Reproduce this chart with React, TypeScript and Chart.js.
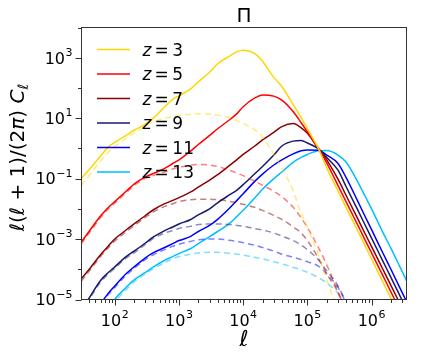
import React, { useEffect, useRef } from "react";
import { Chart, registerables } from "chart.js";

Chart.register(...registerables);

// multipole ℓ
const ELL = [30, 40, 60, 80, 100, 150, 200, 300, 400, 600, 800, 1000, 1500, 2000, 3000, 4000, 6000, 8000, 10000, 15000, 20000, 30000, 40000, 60000, 80000, 100000, 150000, 200000, 300000, 400000, 600000, 800000, 1000000, 1500000, 2000000, 3000000, 4000000];

const Z_LABELS = ["3", "5", "7", "9", "11", "13"];
const COLORS = ["#FFD700", "#FF0000", "#8B0000", "#191970", "#0000FF", "#00BFFF"];
const DASH_COLORS = ["rgba(255,215,0,0.5)", "rgba(255,0,0,0.5)", "rgba(139,0,0,0.5)", "rgba(25,25,112,0.5)", "rgba(0,0,255,0.5)", "rgba(0,191,255,0.5)"];

// log10 of ℓ(ℓ+1)/(2π) C_ℓ — total (solid)
const Z3_TOTAL = [-1.0, -0.7, -0.25, 0.05, 0.2, 0.43, 0.6, 0.8, 1.0, 1.38, 1.62, 1.74, 1.96, 2.2, 2.52, 2.8, 3.04, 3.2, 3.25, 3.14, 2.88, 2.35, 2.05, 1.45, 1.02, 0.65, -0.02, -0.65, -1.41, -1.95, -2.7, -3.24, -3.66, -4.42, -4.96, -5.72, -6.26];
const Z5_TOTAL = [-3.1, -2.74, -2.24, -1.95, -1.76, -1.42, -1.18, -0.94, -0.83, -0.66, -0.5, -0.38, -0.1, 0.13, 0.43, 0.65, 0.93, 1.15, 1.38, 1.66, 1.77, 1.73, 1.6, 1.22, 0.85, 0.55, -0.02, -0.48, -1.23, -1.76, -2.51, -3.05, -3.46, -4.21, -4.75, -5.5, -6.03];
const Z7_TOTAL = [-4.32, -4.0, -3.52, -3.22, -3.0, -2.7, -2.5, -2.22, -2.03, -1.83, -1.72, -1.63, -1.45, -1.28, -1.05, -0.87, -0.58, -0.37, -0.2, 0.07, 0.28, 0.53, 0.72, 0.82, 0.68, 0.5, -0.02, -0.38, -1.02, -1.55, -2.3, -2.84, -3.25, -4.0, -4.53, -5.29, -5.82];
const Z9_TOTAL = [-5.4, -4.95, -4.37, -4.1, -3.92, -3.58, -3.4, -3.13, -2.93, -2.72, -2.6, -2.5, -2.36, -2.2, -2.0, -1.8, -1.55, -1.38, -1.2, -0.85, -0.6, -0.22, 0.08, 0.24, 0.26, 0.18, -0.02, -0.3, -0.72, -1.26, -2.01, -2.55, -2.97, -3.73, -4.27, -5.03, -5.57];
const Z11_TOTAL = [-6.2, -5.7, -5.15, -4.78, -4.55, -4.15, -3.92, -3.62, -3.45, -3.28, -3.15, -3.05, -2.92, -2.75, -2.55, -2.35, -2.0, -1.72, -1.5, -1.1, -0.85, -0.55, -0.38, -0.18, -0.08, -0.05, -0.06, -0.22, -0.5, -0.96, -1.72, -2.27, -2.69, -3.46, -4.0, -4.77, -5.32];
const Z13_TOTAL = [-7.2, -6.6, -5.9, -5.35, -5.0, -4.6, -4.35, -4.1, -3.92, -3.7, -3.58, -3.48, -3.32, -3.15, -2.92, -2.75, -2.5, -2.25, -2.05, -1.65, -1.35, -1.0, -0.78, -0.46, -0.3, -0.2, -0.08, -0.07, -0.22, -0.45, -1.08, -1.6, -2.0, -2.78, -3.3, -4.08, -4.62];

// log10 values — second component (dashed)
const Z3_PART = [-1.23, -0.9, -0.42, -0.12, 0.06, 0.33, 0.5, 0.74, 0.88, 1.0, 1.06, 1.09, 1.13, 1.15, 1.14, 1.1, 1.02, 0.92, 0.82, 0.62, 0.38, -0.2, -0.65, -1.4, -2.15, -2.6, -3.55, -4.35, -5.4, -6.5, null, null, null, null, null, null, null];
const Z5_PART = [-3.16, -2.8, -2.3, -2.0, -1.81, -1.47, -1.23, -0.99, -0.9, -0.78, -0.68, -0.63, -0.56, -0.53, -0.55, -0.6, -0.72, -0.82, -0.9, -1.08, -1.22, -1.42, -1.6, -1.95, -2.3, -2.62, -3.3, -3.85, -4.75, -5.5, null, null, null, null, null, null, null];
const Z7_PART = [-4.4, -4.06, -3.58, -3.28, -3.06, -2.76, -2.56, -2.28, -2.1, -1.92, -1.83, -1.76, -1.7, -1.68, -1.68, -1.7, -1.75, -1.8, -1.85, -1.95, -2.05, -2.22, -2.35, -2.6, -2.8, -3.05, -3.65, -4.15, -4.75, -5.35, null, null, null, null, null, null, null];
const Z9_PART = [-5.45, -5.0, -4.42, -4.15, -3.97, -3.63, -3.46, -3.18, -2.98, -2.8, -2.72, -2.65, -2.58, -2.52, -2.5, -2.5, -2.52, -2.55, -2.58, -2.65, -2.7, -2.8, -2.9, -3.05, -3.2, -3.35, -3.7, -4.05, -4.55, -5.1, null, null, null, null, null, null, null];
const Z11_PART = [-6.3, -5.8, -5.2, -4.83, -4.6, -4.2, -3.97, -3.68, -3.52, -3.35, -3.24, -3.17, -3.08, -3.02, -3.0, -3.0, -3.04, -3.08, -3.12, -3.2, -3.28, -3.4, -3.5, -3.6, -3.68, -3.75, -3.9, -4.15, -4.6, -5.1, null, null, null, null, null, null, null];
const Z13_PART = [-7.3, -6.7, -6.0, -5.45, -5.1, -4.68, -4.42, -4.15, -3.98, -3.78, -3.65, -3.58, -3.5, -3.46, -3.44, -3.44, -3.47, -3.5, -3.53, -3.6, -3.65, -3.75, -3.82, -3.93, -4.02, -4.1, -4.28, -4.45, -4.8, -5.2, null, null, null, null, null, null, null];

const TOTALS = [Z3_TOTAL, Z5_TOTAL, Z7_TOTAL, Z9_TOTAL, Z11_TOTAL, Z13_TOTAL];
const PARTS = [Z3_PART, Z5_PART, Z7_PART, Z9_PART, Z11_PART, Z13_PART];

const X_TICKS = [1e2, 1e3, 1e4, 1e5, 1e6];
const X_TICK_EXP = ["2", "3", "4", "5", "6"];
const Y_TICKS = [1e-5, 1e-3, 1e-1, 1e1, 1e3];
const Y_TICK_EXP = ["\u22125", "\u22123", "\u22121", "1", "3"];
const Y_MINOR = [1e-4, 1e-2, 1, 1e2, 1e4];

const X_MIN = 30.3;
const X_MAX = 3.5e6;
const Y_MIN = 1e-5;
const Y_MAX = 1e4;

const FONT = '"DejaVu Sans", sans-serif';
const AXIS_COLOR = "#333333";

function toPoints(arr: (number | null)[]) {
  return ELL.map((x, i) => ({ x, y: arr[i] == null ? null : Math.pow(10, arr[i] as number) }));
}

function drawPow(ctx: CanvasRenderingContext2D, exp: string, x: number, baseY: number, align: "center" | "right") {
  const baseFont = `16px ${FONT}`;
  const supFont = `11px ${FONT}`;
  ctx.font = baseFont;
  const w1 = ctx.measureText("10").width;
  ctx.font = supFont;
  const w2 = ctx.measureText(exp).width;
  const total = w1 + w2 + 0.5;
  const start = align === "center" ? x - total / 2 : x - total;
  ctx.textAlign = "left";
  ctx.textBaseline = "alphabetic";
  ctx.font = baseFont;
  ctx.fillText("10", start, baseY);
  ctx.font = supFont;
  ctx.fillText(exp, start + w1 + 0.5, baseY - 7.5);
}

const decorPlugin = {
  id: "decor",
  afterDraw(chart: any) {
    const ctx: CanvasRenderingContext2D = chart.ctx;
    const area = chart.chartArea;
    const xs = chart.scales.x;
    const ys = chart.scales.y;
    ctx.save();
    ctx.fillStyle = "#000";
    ctx.strokeStyle = AXIS_COLOR;
    ctx.lineWidth = 1;

    // frame
    ctx.strokeRect(area.left, area.top, area.right - area.left, area.bottom - area.top);

    // x ticks
    ctx.beginPath();
    X_TICKS.forEach((v) => {
      const px = Math.round(xs.getPixelForValue(v)) + 0.5;
      ctx.moveTo(px, area.bottom);
      ctx.lineTo(px, area.bottom + 6);
    });
    for (let d = 10; d <= 1e6; d *= 10) {
      for (let m = 2; m <= 9; m++) {
        const v = m * d;
        if (v < X_MIN || v > X_MAX) continue;
        const px = Math.round(xs.getPixelForValue(v)) + 0.5;
        ctx.moveTo(px, area.bottom);
        ctx.lineTo(px, area.bottom + 3.5);
      }
    }
    // y ticks
    Y_TICKS.forEach((v) => {
      const py = Math.round(ys.getPixelForValue(v)) + 0.5;
      ctx.moveTo(area.left, py);
      ctx.lineTo(area.left - 6, py);
    });
    Y_MINOR.forEach((v) => {
      const py = Math.round(ys.getPixelForValue(v)) + 0.5;
      if (py < area.top - 1) return;
      ctx.moveTo(area.left, py);
      ctx.lineTo(area.left - 3.5, py);
    });
    ctx.stroke();

    // tick labels
    X_TICKS.forEach((v, i) => {
      drawPow(ctx, X_TICK_EXP[i], xs.getPixelForValue(v), area.bottom + 26, "center");
    });
    Y_TICKS.forEach((v, i) => {
      drawPow(ctx, Y_TICK_EXP[i], area.left - 9, ys.getPixelForValue(v) + 5.8, "right");
    });

    // title
    ctx.font = `20px ${FONT}`;
    ctx.textAlign = "center";
    ctx.textBaseline = "alphabetic";
    ctx.fillText("\u03A0", (area.left + area.right) / 2, 21.5);

    // x label
    ctx.font = `italic 22px ${FONT}`;
    ctx.fillText("\u2113", (area.left + area.right) / 2, 346);

    // y label
    const segs: { t: string; f: string; dy: number }[] = [
      { t: "\u2113", f: `italic 20px ${FONT}`, dy: 0 },
      { t: "(", f: `20px ${FONT}`, dy: 0 },
      { t: "\u2113", f: `italic 20px ${FONT}`, dy: 0 },
      { t: " + 1)/(2", f: `20px ${FONT}`, dy: 0 },
      { t: "\u03C0", f: `italic 20px ${FONT}`, dy: 0 },
      { t: ") ", f: `20px ${FONT}`, dy: 0 },
      { t: "C", f: `italic 20px ${FONT}`, dy: 0 },
      { t: "\u2113", f: `italic 14px ${FONT}`, dy: 4 },
    ];
    let total = 0;
    const widths = segs.map((s) => {
      ctx.font = s.f;
      const w = ctx.measureText(s.t).width;
      total += w;
      return w;
    });
    ctx.save();
    ctx.translate(23.5, (area.top + area.bottom) / 2 - 6);
    ctx.rotate(-Math.PI / 2);
    ctx.textAlign = "left";
    let cx = -total / 2;
    segs.forEach((s, i) => {
      ctx.font = s.f;
      ctx.fillText(s.t, cx, s.dy);
      cx += widths[i];
    });
    ctx.restore();

    // legend
    Z_LABELS.forEach((z, i) => {
      const ly = 49.5 + i * 24.5;
      ctx.strokeStyle = COLORS[i];
      ctx.lineWidth = 1.5;
      ctx.beginPath();
      ctx.moveTo(97, ly);
      ctx.lineTo(130, ly);
      ctx.stroke();
      ctx.fillStyle = "#000";
      ctx.textAlign = "left";
      ctx.font = `italic 17px ${FONT}`;
      const wz = ctx.measureText("z").width;
      ctx.fillText("z", 142.5, ly + 6);
      ctx.font = `17px ${FONT}`;
      const weq = ctx.measureText("=").width;
      const xEq = 142.5 + wz + 3.2;
      ctx.fillText("=", xEq, ly + 6);
      ctx.fillText(z, xEq + weq + 3.5, ly + 6);
    });

    ctx.restore();
  },
};

export default function App() {
  const ref = useRef<HTMLCanvasElement | null>(null);
  useEffect(() => {
    if (!ref.current) return;
    const datasets: any[] = [];
    PARTS.forEach((arr, i) => {
      datasets.push({
        data: toPoints(arr),
        borderColor: DASH_COLORS[i],
        borderWidth: 1.5,
        borderDash: [6, 4],
        pointRadius: 0,
        fill: false,
        cubicInterpolationMode: "monotone",
      });
    });
    TOTALS.forEach((arr, i) => {
      datasets.push({
        data: toPoints(arr),
        borderColor: COLORS[i],
        borderWidth: 1.5,
        pointRadius: 0,
        fill: false,
        cubicInterpolationMode: "monotone",
      });
    });
    const chart = new Chart(ref.current, {
      type: "line",
      data: { datasets },
      options: {
        animation: false,
        responsive: false,
        devicePixelRatio: 1,
        events: [],
        layout: { padding: { left: 0, top: 27.5, right: 16.5, bottom: 0 } },
        plugins: { legend: { display: false }, title: { display: false }, tooltip: { enabled: false } },
        scales: {
          x: {
            type: "logarithmic",
            min: X_MIN,
            max: X_MAX,
            ticks: { display: false },
            grid: { display: false },
            border: { display: false },
            afterFit: (s: any) => {
              s.height = 58.5;
            },
          },
          y: {
            type: "logarithmic",
            min: Y_MIN,
            max: Y_MAX,
            ticks: { display: false },
            grid: { display: false },
            border: { display: false },
            afterFit: (s: any) => {
              s.width = 81.5;
            },
          },
        },
      },
      plugins: [decorPlugin],
    });
    return () => chart.destroy();
  }, []);
  return (
    <div style={{ position: "fixed", left: 0, top: 0, width: 423, height: 358, background: "#fff" }}>
      <canvas ref={ref} width={423} height={358} style={{ display: "block" }} />
    </div>
  );
}
